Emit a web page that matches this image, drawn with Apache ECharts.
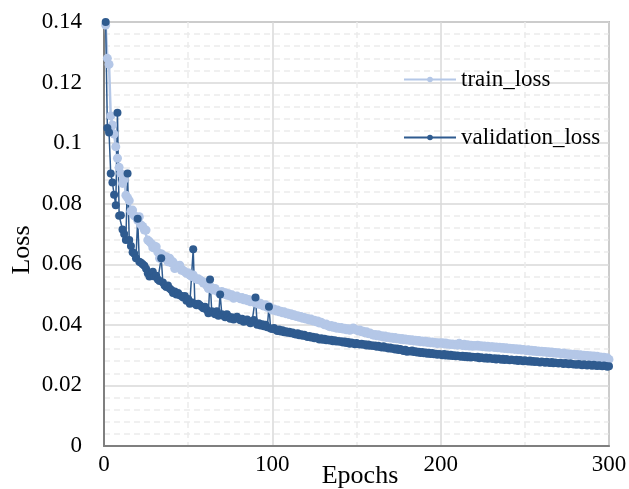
<!DOCTYPE html>
<html>
<head>
<meta charset="utf-8">
<script src="https://cdn.jsdelivr.net/npm/echarts@6/dist/echarts.min.js"></script>
<style>
  html, body { margin: 0; padding: 0; background: #fff; }
  #chart { width: 629px; height: 489px; }
</style>
</head>
<body>
<div id="chart"></div>
<script>
// loss per epoch (epoch 1..300)
var trainLoss = [
  0.1390,0.1280,0.1260,0.1090,0.1060,0.1030,0.0988,0.0950,0.0920,0.0900,
  0.0867,0.0880,0.0828,0.0820,0.0810,0.0775,0.0779,0.0760,0.0757,0.0745,
  0.0757,0.0730,0.0725,0.0713,0.0713,0.0680,0.0675,0.0669,0.0655,0.0660,
  0.0658,0.0640,0.0620,0.0635,0.0630,0.0620,0.0625,0.0608,0.0620,0.0605,
  0.0608,0.0586,0.0595,0.0590,0.0597,0.0580,0.0580,0.0575,0.0570,0.0572,
  0.0564,0.0560,0.0565,0.0555,0.0550,0.0552,0.0548,0.0545,0.0538,0.0540,
  0.0530,0.0520,0.0528,0.0522,0.0515,0.0520,0.0512,0.0508,0.0505,0.0510,
  0.0502,0.0506,0.0498,0.0503,0.0495,0.0499,0.0488,0.0494,0.0495,0.0490,
  0.0486,0.0490,0.0483,0.0487,0.0480,0.0484,0.0476,0.0481,0.0476,0.0472,
  0.0475,0.0468,0.0471,0.0465,0.0462,0.0466,0.0458,0.0461,0.0454,0.0449,
  0.0452,0.0446,0.0449,0.0443,0.0445,0.0440,0.0443,0.0437,0.0439,0.0434,
  0.0437,0.0431,0.0433,0.0428,0.0430,0.0425,0.0428,0.0422,0.0424,0.0419,
  0.0421,0.0416,0.0419,0.0413,0.0415,0.0410,0.0413,0.0406,0.0409,0.0404,
  0.0400,0.0403,0.0397,0.0394,0.0398,0.0392,0.0395,0.0389,0.0392,0.0388,
  0.0391,0.0386,0.0389,0.0384,0.0387,0.0382,0.0385,0.0390,0.0386,0.0383,
  0.0380,0.0383,0.0377,0.0379,0.0374,0.0377,0.0371,0.0373,0.0369,0.0366,
  0.0368,0.0364,0.0367,0.0362,0.0364,0.0360,0.0363,0.0358,0.0361,0.0357,
  0.0359,0.0355,0.0358,0.0354,0.0356,0.0352,0.0355,0.0351,0.0353,0.0350,
  0.0352,0.0348,0.0351,0.0347,0.0349,0.0346,0.0348,0.0344,0.0347,0.0343,
  0.0346,0.0342,0.0344,0.0341,0.0343,0.0340,0.0342,0.0338,0.0341,0.0339,
  0.0341,0.0337,0.0340,0.0336,0.0338,0.0335,0.0337,0.0334,0.0336,0.0333,
  0.0339,0.0335,0.0332,0.0336,0.0331,0.0334,0.0330,0.0333,0.0329,0.0332,
  0.0330,0.0333,0.0329,0.0331,0.0328,0.0330,0.0327,0.0329,0.0326,0.0328,
  0.0328,0.0325,0.0327,0.0324,0.0326,0.0323,0.0325,0.0322,0.0324,0.0321,
  0.0323,0.0320,0.0322,0.0319,0.0321,0.0318,0.0320,0.0317,0.0319,0.0317,
  0.0315,0.0318,0.0314,0.0316,0.0313,0.0315,0.0312,0.0314,0.0311,0.0313,
  0.0310,0.0312,0.0309,0.0311,0.0308,0.0310,0.0307,0.0309,0.0306,0.0308,
  0.0306,0.0304,0.0307,0.0303,0.0305,0.0302,0.0304,0.0301,0.0303,0.0300,
  0.0302,0.0299,0.0301,0.0298,0.0300,0.0297,0.0299,0.0296,0.0298,0.0295,
  0.0297,0.0294,0.0296,0.0292,0.0294,0.0291,0.0293,0.0289,0.0291,0.0286
];
var valLoss = [
  0.1400,0.1050,0.1035,0.0900,0.0870,0.0830,0.0795,0.1100,0.0760,0.0762,
  0.0715,0.0700,0.0680,0.0900,0.0680,0.0660,0.0640,0.0635,0.0620,0.0750,
  0.0608,0.0605,0.0600,0.0595,0.0585,0.0570,0.0560,0.0565,0.0575,0.0560,
  0.0562,0.0550,0.0545,0.0620,0.0540,0.0530,0.0525,0.0530,0.0520,0.0515,
  0.0505,0.0510,0.0500,0.0505,0.0498,0.0495,0.0490,0.0495,0.0480,0.0485,
  0.0470,0.0475,0.0650,0.0470,0.0465,0.0470,0.0465,0.0460,0.0455,0.0460,
  0.0450,0.0438,0.0550,0.0445,0.0440,0.0435,0.0445,0.0430,0.0500,0.0435,
  0.0430,0.0425,0.0435,0.0428,0.0420,0.0425,0.0418,0.0422,0.0427,0.0420,
  0.0415,0.0420,0.0410,0.0415,0.0418,0.0410,0.0405,0.0412,0.0416,0.0490,
  0.0400,0.0405,0.0398,0.0402,0.0395,0.0400,0.0392,0.0460,0.0388,0.0386,
  0.0390,0.0384,0.0380,0.0385,0.0378,0.0382,0.0376,0.0379,0.0374,0.0377,
  0.0372,0.0375,0.0370,0.0368,0.0372,0.0366,0.0369,0.0364,0.0367,0.0362,
  0.0360,0.0363,0.0358,0.0361,0.0356,0.0359,0.0355,0.0352,0.0356,0.0351,
  0.0354,0.0349,0.0352,0.0348,0.0351,0.0346,0.0349,0.0345,0.0347,0.0344,
  0.0346,0.0342,0.0345,0.0340,0.0343,0.0338,0.0342,0.0339,0.0336,0.0340,
  0.0337,0.0335,0.0338,0.0334,0.0336,0.0332,0.0335,0.0331,0.0333,0.0330,
  0.0332,0.0328,0.0331,0.0327,0.0325,0.0329,0.0324,0.0326,0.0322,0.0325,
  0.0321,0.0323,0.0319,0.0322,0.0317,0.0320,0.0316,0.0314,0.0318,0.0311,
  0.0314,0.0312,0.0315,0.0310,0.0313,0.0309,0.0311,0.0307,0.0310,0.0306,
  0.0309,0.0305,0.0308,0.0304,0.0307,0.0303,0.0305,0.0301,0.0304,0.0302,
  0.0300,0.0304,0.0299,0.0302,0.0298,0.0301,0.0297,0.0300,0.0296,0.0299,
  0.0297,0.0295,0.0298,0.0294,0.0297,0.0293,0.0296,0.0292,0.0295,0.0294,
  0.0292,0.0295,0.0290,0.0293,0.0291,0.0289,0.0292,0.0288,0.0291,0.0289,
  0.0287,0.0290,0.0286,0.0289,0.0288,0.0285,0.0288,0.0284,0.0287,0.0285,
  0.0283,0.0286,0.0284,0.0282,0.0285,0.0281,0.0284,0.0282,0.0280,0.0283,
  0.0281,0.0279,0.0282,0.0278,0.0281,0.0277,0.0280,0.0278,0.0276,0.0279,
  0.0277,0.0275,0.0278,0.0276,0.0274,0.0277,0.0273,0.0276,0.0274,0.0272,
  0.0275,0.0273,0.0271,0.0274,0.0272,0.0270,0.0273,0.0271,0.0269,0.0270,
  0.0268,0.0271,0.0269,0.0267,0.0270,0.0268,0.0266,0.0269,0.0267,0.0265,
  0.0268,0.0266,0.0264,0.0267,0.0265,0.0263,0.0266,0.0264,0.0262,0.0263
];

var font = '"Liberation Serif", "Times New Roman", serif';
var trainColor = '#b4c7e7';
var valColor = '#2f5b8f';

function pairs(arr) {
    var out = [];
    for (var i = 0; i < arr.length; i++) {
        out.push([i + 1, arr[i]]);
    }
    return out;
}

var myChart = echarts.init(document.getElementById('chart'));
var options = {
    animation: false,
    textStyle: { fontFamily: font },
    grid: {
        left: 104,
        right: 20,
        top: 22,
        bottom: 43,
        outerBoundsMode: 'none',
        containLabel: false,
        show: true,
        borderColor: '#8c8c8c',
        borderWidth: 1.5
    },
    // axis titles
    graphic: [
        {
            type: 'text',
            x: 360,
            y: 476,
            style: { text: 'Epochs', font: '26px ' + font, fill: '#000', textAlign: 'center', textVerticalAlign: 'middle' }
        },
        {
            type: 'text',
            x: 22,
            y: 250,
            rotation: Math.PI / 2,
            style: { text: 'Loss', font: '26px ' + font, fill: '#000', textAlign: 'center', textVerticalAlign: 'middle' }
        }
    ],
    legend: {
        orient: 'vertical',
        left: 398,
        top: 63,
        itemWidth: 52,
        itemHeight: 7,
        itemGap: 35,
        textStyle: { fontFamily: font, fontSize: 23, color: '#000' },
        data: ['train_loss', 'validation_loss']
    },
    xAxis: {
        type: 'value',
        min: 0,
        max: 300,
        interval: 100,
        axisLine: { lineStyle: { color: '#7f7f7f', width: 2 } },
        axisTick: { show: false },
        axisLabel: { fontFamily: font, fontSize: 23, color: '#000', margin: 7 },
        splitLine: { lineStyle: { color: '#d9d9d9', width: 1.5 } },
        minorTick: { show: false, splitNumber: 2 },
        minorSplitLine: { show: true, lineStyle: { color: '#ebebeb', type: [6, 4], width: 1.5 } }
    },
    yAxis: {
        type: 'value',
        min: 0,
        max: 0.14,
        interval: 0.02,
        axisLine: { show: true, lineStyle: { color: '#7f7f7f', width: 2 } },
        axisTick: { show: false },
        axisLabel: { fontFamily: font, fontSize: 23, color: '#000', margin: 22 },
        splitLine: { lineStyle: { color: '#d9d9d9', width: 1.5 } },
        minorTick: { show: false, splitNumber: 5 },
        minorSplitLine: { show: true, lineStyle: { color: '#ebebeb', type: [6, 4], width: 1.5 } }
    },
    series: [
        {
            name: 'train_loss',
            type: 'line',
            symbol: 'circle',
            symbolSize: 9,
            lineStyle: { color: trainColor, width: 2.5 },
            itemStyle: { color: trainColor },
            data: pairs(trainLoss)
        },
        {
            name: 'validation_loss',
            type: 'line',
            symbol: 'circle',
            symbolSize: 8,
            lineStyle: { color: valColor, width: 1.5 },
            itemStyle: { color: valColor },
            data: pairs(valLoss)
        }
    ]
};
myChart.setOption(options);
</script>
</body>
</html>
